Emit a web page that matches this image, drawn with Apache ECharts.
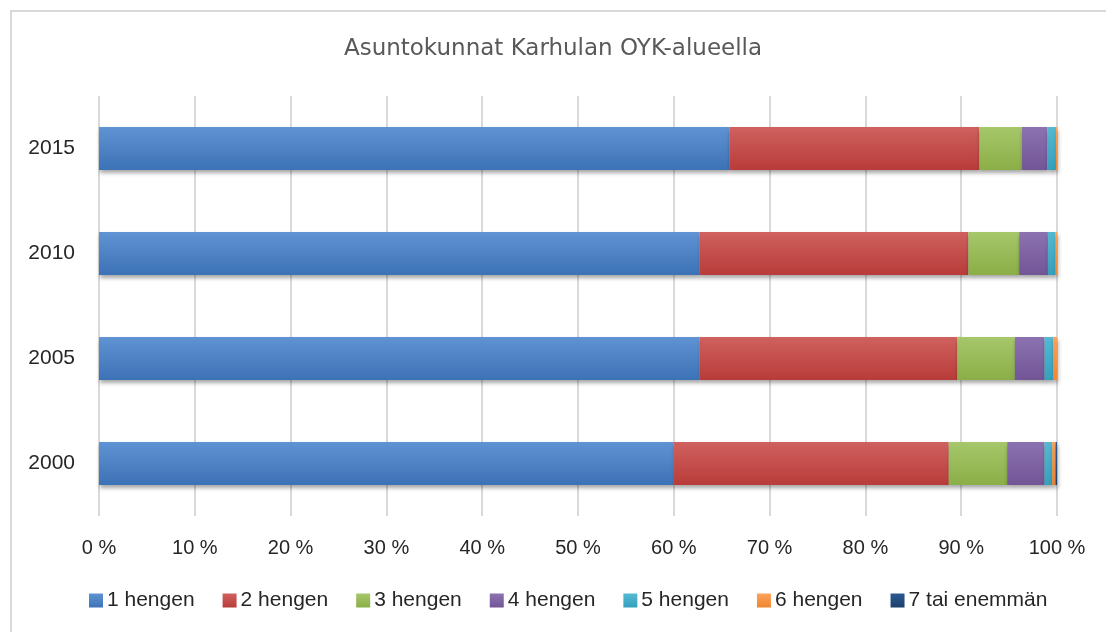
<!DOCTYPE html>
<html>
<head>
<meta charset="utf-8">
<script src="https://cdn.jsdelivr.net/npm/echarts@6/dist/echarts.min.js"></script>
<style>
  html, body { margin: 0; padding: 0; background: #fff; }
  #chart { width: 1106px; height: 632px; }
</style>
</head>
<body>
<div id="chart"></div>
<script>
// --- data (percent shares per year) ---
const years = ['2000', '2005', '2010', '2015'];
const seriesNames = ['1 hengen', '2 hengen', '3 hengen', '4 hengen', '5 hengen', '6 hengen', '7 tai enemmän'];
const hengen1 = [60.0, 62.7, 62.7, 65.8];
const hengen2 = [28.7, 26.9, 28.05, 26.1];
const hengen3 = [6.1, 6.0, 5.3, 4.45];
const hengen4 = [3.9, 3.1, 3.0, 2.65];
const hengen5 = [0.8, 0.9, 0.8, 0.9];
const hengen6 = [0.35, 0.4, 0.15, 0.1];
const hengen7 = [0.15, 0.0, 0.05, 0.0];
const xTicks = ['0 %', '10 %', '20 %', '30 %', '40 %', '50 %', '60 %', '70 %', '80 %', '90 %', '100 %'];

const allValues = [hengen1, hengen2, hengen3, hengen4, hengen5, hengen6, hengen7];

// Excel-ish gradient fills: [top, bottom]
const fills = [
  ['#5f93d3', '#3c72b6'],
  ['#cf615e', '#b83c39'],
  ['#a6c76a', '#8bae47'],
  ['#8d72b1', '#715596'],
  ['#55b9d3', '#35a0bc'],
  ['#fba25b', '#ef8630'],
  ['#2c5a91', '#1b3f6d']
];

const chart = echarts.init(document.getElementById('chart'));

const grad = c => new echarts.graphic.LinearGradient(0, 0, 0, 1, [
  { offset: 0, color: c[0] },
  { offset: 1, color: c[1] }
]);

const series = seriesNames.map((name, i) => ({
  name: name,
  type: 'bar',
  stack: 'total',
  barWidth: 43,
  data: allValues[i],
  itemStyle: {
    color: grad(fills[i]),
    shadowColor: 'rgba(0,0,0,0.35)',
    shadowBlur: 4,
    shadowOffsetX: 1,
    shadowOffsetY: 3
  }
}));

const option = {
  backgroundColor: '#fff',
  animation: false,
  graphic: [{
    type: 'rect',
    shape: { x: 11, y: 11, width: 1200, height: 700 },
    style: { fill: 'none', stroke: '#d9d9d9', lineWidth: 2 },
    z: -10
  }],
  title: {
    text: 'Asuntokunnat Karhulan OYK-alueella',
    left: 'center',
    top: 33,
    textStyle: {
      fontFamily: 'DejaVu Sans',
      fontSize: 23,
      fontWeight: 'normal',
      color: '#595959'
    }
  },
  legend: {
    data: seriesNames,
    left: 84,
    top: 585,
    itemWidth: 14,
    itemHeight: 14,
    itemGap: 28,
    icon: 'rect',
    textStyle: {
      fontFamily: 'Liberation Sans',
      fontSize: 21,
      color: '#262626',
      padding: [0, 0, 0, -1]
    }
  },
  grid: { left: 99, right: 49, top: 96, bottom: 116 },
  xAxis: {
    type: 'value',
    min: 0,
    max: 100,
    interval: 10,
    axisLine: { show: false },
    axisTick: { show: false },
    splitLine: { lineStyle: { color: '#d9d9d9', width: 2 } },
    axisLabel: {
      margin: 22,
      fontFamily: 'Liberation Sans',
      fontSize: 20,
      color: '#262626',
      formatter: v => xTicks[Math.round(v / 10)]
    }
  },
  yAxis: {
    type: 'category',
    data: years,
    axisLine: { show: false },
    axisTick: { show: false },
    axisLabel: {
      margin: 24,
      fontFamily: 'Liberation Sans',
      fontSize: 21,
      color: '#262626'
    }
  },
  series: series
};

chart.setOption(option);
</script>
</body>
</html>
